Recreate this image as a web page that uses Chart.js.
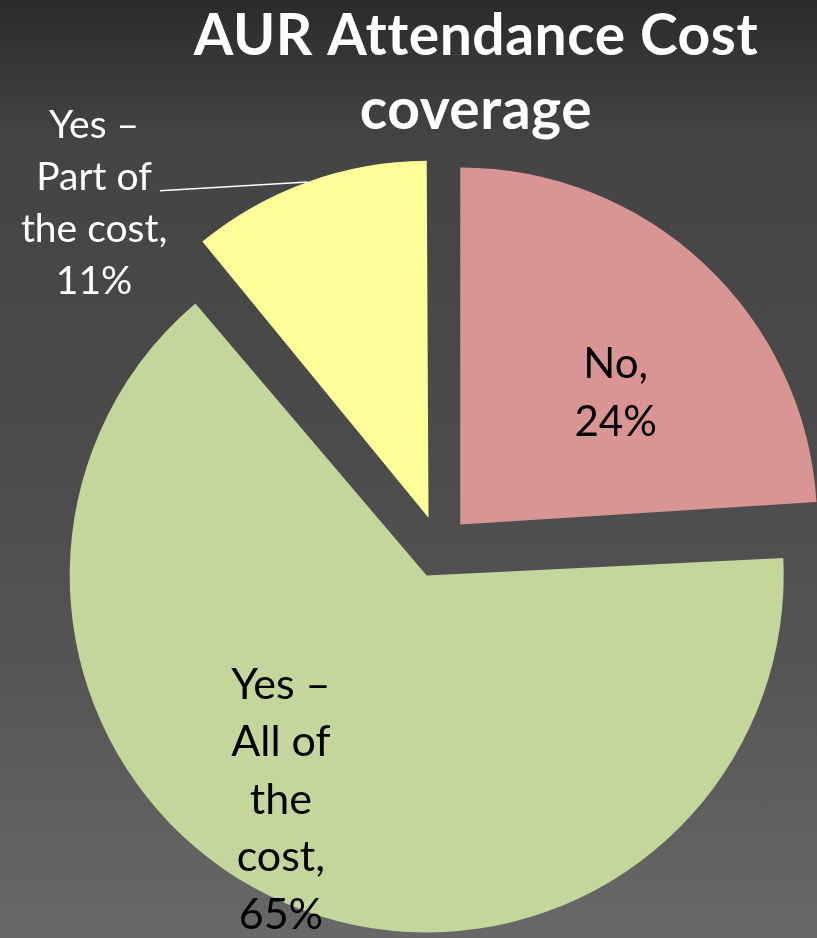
<!DOCTYPE html>
<html>
<head>
<meta charset="utf-8">
<title>AUR Attendance Cost coverage</title>
<script src="https://cdn.jsdelivr.net/npm/chart.js@4.4.1/dist/chart.umd.min.js"></script>
<style>
  html, body { margin: 0; padding: 0; }
  body {
    width: 817px;
    height: 938px;
    overflow: hidden;
    background: linear-gradient(to bottom, #2b2b2b 0%, #444 15%, #4a4a4a 45%, #555 72%, #686868 100%);
  }
  #wrap { position: relative; width: 817px; height: 938px; }
</style>
</head>
<body>
<div id="wrap"><canvas id="costChart" width="817" height="938"></canvas></div>
<script>
const titleLines = ['AUR Attendance Cost', 'coverage'];
const categories = [['No,'], ['Yes –', 'All of', 'the', 'cost,'], ['Yes –', 'Part of', 'the cost,']];
const shares = [24, 65, 11];
const sliceColors = ['#D99594', '#C3D69B', '#FFFF99'];

const FONT = 'Lato, "Open Sans", sans-serif';
const EXPLODE = 124;

// where each data label sits, relative to its own slice
const labelStyle = [
  { dist: 0.57, turn: 6.6, color: '#000', size: 42, lineHeight: 58 },
  { dist: 0.75, turn: 9.6, color: '#000', size: 43, lineHeight: 57.5 },
  { dist: 1.285, turn: -27, color: '#fff', size: 39, lineHeight: 52, leader: true }
];

// how much Chart.js grows an exploded arc when it draws it
function growth(arc) {
  const fix = 1 - Math.sin(Math.min(Math.PI, arc.circumference));
  return ((arc.options.offset || 0) / 4) * fix;
}

// trim that growth back so all slices share one radius
const evenRadius = {
  id: 'evenRadius',
  afterDatasetUpdate(chart) {
    chart.getDatasetMeta(0).data.forEach(arc => {
      arc.outerRadius -= growth(arc);
    });
  }
};

const heading = {
  id: 'heading',
  afterDraw(chart) {
    const ctx = chart.ctx;
    ctx.save();
    ctx.fillStyle = '#fff';
    ctx.font = 'bold 57px ' + FONT;
    ctx.letterSpacing = '0.5px';
    ctx.textAlign = 'center';
    ctx.textBaseline = 'alphabetic';
    titleLines.forEach((line, i) => ctx.fillText(line, 476, 55 + i * 74));
    ctx.restore();
  }
};

const sliceLabels = {
  id: 'sliceLabels',
  afterDatasetsDraw(chart) {
    const ctx = chart.ctx;
    chart.getDatasetMeta(0).data.forEach((arc, i) => {
      const st = labelStyle[i];
      const mid = (arc.startAngle + arc.endAngle) / 2;
      const shift = (arc.options.offset || 0) / 4;
      const ax = arc.x + Math.cos(mid) * shift;
      const ay = arc.y + Math.sin(mid) * shift;
      const r = arc.outerRadius + growth(arc);
      const a = mid + st.turn * Math.PI / 180;
      const cx = ax + Math.cos(a) * r * st.dist;
      const cy = ay + Math.sin(a) * r * st.dist;
      const lines = categories[i].concat(shares[i] + '%');
      const top = cy - (lines.length - 1) / 2 * st.lineHeight;

      ctx.save();
      ctx.font = st.size + 'px ' + FONT;
      ctx.fillStyle = st.color;
      ctx.textAlign = 'center';
      ctx.textBaseline = 'middle';
      lines.forEach((line, k) => ctx.fillText(line, cx, top + k * st.lineHeight));

      if (st.leader) {
        const w = ctx.measureText(lines[1]).width;
        ctx.strokeStyle = '#fff';
        ctx.lineWidth = 1.5;
        ctx.beginPath();
        ctx.moveTo(cx + w / 2 + 8, top + st.lineHeight + 13);
        ctx.lineTo(ax + Math.cos(mid) * r, ay + Math.sin(mid) * r);
        ctx.stroke();
      }
      ctx.restore();
    });
  }
};

new Chart(document.getElementById('costChart'), {
  type: 'pie',
  data: {
    labels: categories.map(c => c.join(' ')),
    datasets: [{
      data: shares,
      backgroundColor: sliceColors,
      borderWidth: 0,
      offset: EXPLODE,
      radius: 357
    }]
  },
  options: {
    responsive: false,
    animation: false,
    events: [],
    devicePixelRatio: 1,
    layout: { padding: { left: 61, right: 0, top: 156, bottom: 0 } },
    plugins: {
      legend: { display: false },
      tooltip: { enabled: false },
      title: { display: false }
    }
  },
  plugins: [evenRadius, heading, sliceLabels]
});
</script>
</body>
</html>
